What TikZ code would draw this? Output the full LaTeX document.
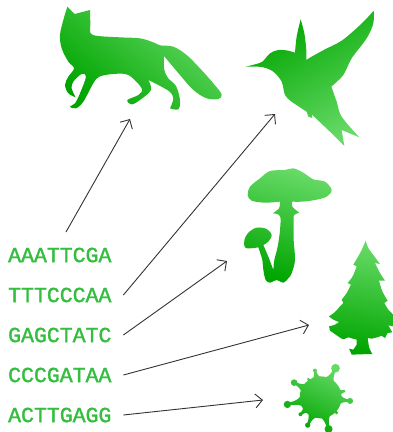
\documentclass[tikz,border=0pt]{standalone}
\usepackage{fontspec}
\setmainfont{Liberation Mono}[FakeBold=1.6]
\usetikzlibrary{arrows.meta}
\definecolor{darkg}{HTML}{00A500}
\definecolor{midg}{HTML}{2CBB2C}
\definecolor{lightg}{HTML}{66DA66}
\definecolor{seqg}{HTML}{35BD40}
\definecolor{linec}{HTML}{333333}
\tikzset{
  zoomed/.style={x=0.33333pt,y=-0.33333pt},
  sm/.style={smooth,tension=0.55},
  silh/.style={draw=none,shade,bottom color=darkg,top color=lightg},
  seq/.style={anchor=west,inner sep=0pt,text width=115pt,align=left,font=\fontsize{21.5}{21.5}\selectfont,text=seqg},
  link/.style={draw=linec,line width=0.9pt,-{Straight Barb[length=7pt,width=14pt,line width=0.9pt]}}
}
\begin{document}
\begin{tikzpicture}[x=1pt,y=-1pt]
\useasboundingbox (0,0) rectangle (393,432);
% fox
\begin{scope}[shift={(40,0)},zoomed]
\path[silh,top color=lightg,bottom color=darkg,shading angle=-40]
 (82,20)--(104,42)--(150,30)
 -- plot[sm] coordinates {(150,30)(151,70)(152,100)(175,108)(240,112)(300,115)(340,127)(360,136)(400,140)(440,165)(480,205)(520,250)(545,283)(535,297)(500,295)(460,270)(420,225)(372,168)}
 -- plot[sm] coordinates {(372,168)(373,210)(385,235)(408,258)(420,300)(415,328)(390,325)}
 -- plot[sm] coordinates {(390,325)(400,295)(385,272)(325,240)}
 -- plot[sm] coordinates {(325,240)(333,270)(300,300)(275,313)(262,300)(295,285)(305,265)(265,225)(220,222)(178,230)(160,250)(130,305)(108,325)(90,320)(105,310)(120,280)(138,230)(125,222)(100,245)(95,265)(107,292)}
 -- plot[sm] coordinates {(107,292)(85,280)(75,255)(85,230)(102,205)(85,185)(65,145)(60,105)(70,60)(82,20)}
 -- cycle;
\end{scope}
% bird
\begin{scope}[shift={(235,0)},zoomed]
\path[silh,top color=lightg,bottom color=darkg,shading angle=-150]
 plot[sm] coordinates {(32,200)(60,193)(82,185)(105,160)(130,150)(160,152)(180,158)}
 -- plot[sm] coordinates {(180,158)(185,110)(197,58)}
 -- plot[sm] coordinates {(197,58)(208,100)(214,150)(214,180)}
 -- plot[sm] coordinates {(214,180)(230,170)(270,148)(320,122)(370,80)(400,50)(416,32)}
 -- plot[sm] coordinates {(416,32)(415,70)(395,115)(350,175)(325,225)(289,260)}
 -- plot[sm] coordinates {(289,260)(305,305)(320,350)(373,412)}
 -- (320,390) -- (328,438)
 -- plot[sm] coordinates {(328,438)(290,400)(230,343)}
 -- (232,354) -- (220,350) -- (215,335)
 -- plot[sm] coordinates {(215,335)(170,305)(150,285)(140,245)(115,215)(85,202)(60,200)(32,200)}
 -- cycle;
\end{scope}
% mushroom
\begin{scope}[shift={(235,160)},zoomed]
\path[silh,top color=lightg,bottom color=darkg,shading angle=-15]
 plot[sm] coordinates {(172,125)(172,140)(193,158)}
 -- plot[sm] coordinates {(193,158)(178,165)(176,180)(176,240)(180,300)(170,340)(160,355)(145,368)(125,360)(105,368)(92,360)(85,330)(82,300)(70,262)}
 -- plot[sm] coordinates {(70,262)(45,265)(30,262)(28,240)(40,218)(65,203)(95,207)(110,225)(100,245)(85,255)}
 -- plot[sm] coordinates {(85,255)(100,290)(115,330)}
 -- plot[sm] coordinates {(115,330)(118,300)(128,260)(135,210)(135,168)(113,160)}
 -- plot[sm] coordinates {(113,160)(132,145)(135,125)}
 -- plot[sm] coordinates {(135,125)(90,128)(50,122)(38,105)(45,80)(75,55)(105,33)(150,30)(175,25)(205,38)(235,58)(270,65)(290,90)(275,110)(240,120)(200,125)(172,125)}
 -- cycle;
\end{scope}
% tree
\begin{scope}[shift={(325,238)},zoomed]
\path[silh,top color=lightg,bottom color=darkg,shading angle=-10]
 (122,8)
 -- plot[sm] coordinates {(122,8)(130,30)(148,55)(165,78)}
 -- plot[sm] coordinates {(165,78)(150,75)}
 -- plot[sm] coordinates {(150,75)(165,105)(180,128)}
 -- (162,128)
 -- plot[sm] coordinates {(162,128)(172,160)(188,188)}
 -- (178,195)
 -- plot[sm] coordinates {(178,195)(190,215)(204,228)}
 -- (204,265) -- (190,262) -- (202,283) -- (188,285) -- (180,300) -- (170,293) -- (160,297) -- (140,302) -- (128,300)
 -- plot[sm] coordinates {(128,300)(133,330)(142,348)}
 -- (105,349) -- (80,350) -- (76,340) -- (72,332) -- (85,335) -- (95,320) -- (95,305) -- (70,298) -- (58,303) -- (50,302) -- (35,292) -- (15,278) -- (12,265)
 -- plot[sm] coordinates {(12,265)(30,260)(42,252)}
 -- plot[sm] coordinates {(42,252)(25,245)(12,235)}
 -- plot[sm] coordinates {(12,235)(30,222)(45,205)(55,195)}
 -- (50,185)
 -- plot[sm] coordinates {(50,185)(65,165)(78,140)}
 -- (68,135)
 -- plot[sm] coordinates {(68,135)(83,115)(95,85)}
 -- (85,80)
 -- plot[sm] coordinates {(85,80)(108,40)(122,8)}
 -- cycle;
\end{scope}
% virus
\begin{scope}[shift={(270,235)},x=0.33333pt,y=-0.33333pt]
\begin{scope}[shift={(152,487)}]
\path[silh,top color=lightg,bottom color=darkg,shading angle=-25]
 (0,0) circle (63)
 foreach \a/\d/\r in {-63/98/13,-102/82/6,-124/66/4,-151/91/10,168/102/11,140/79/6,115/92/8,76/98/12,44/66/5,7/89/9,-15/72/5}{
  ({\a-18}:58) .. controls ({\a-5}:{58+(\d-58)*0.3}) .. ({\a-2}:\d) -- ({\a+2}:\d) .. controls ({\a+5}:{58+(\d-58)*0.3}) .. ({\a+18}:58) -- cycle
  (\a:\d) circle (\r)
 };
\end{scope}
\end{scope}
% sequences
\node[seq] (s1) at (8,255) {AAATTCGA};
\node[seq] (s2) at (8,295) {TTTCCCAA};
\node[seq] (s3) at (8,335) {GAGCTATC};
\node[seq] (s4) at (8,375) {CCCGATAA};
\node[seq] (s5) at (8,415) {ACTTGAGG};
% connector ends
\coordinate (a0) at (66,232);
\coordinate (fox) at (130,119);
\coordinate (bird) at (275,114);
\coordinate (mush) at (227,261);
\coordinate (tree) at (309,325);
\coordinate (virus) at (263,400);
\draw[link] (a0) -- (fox);
\draw[link] (s2.east) -- (bird);
\draw[link] (s3.east) -- (mush);
\draw[link] (s4.east) -- (tree);
\draw[link] (s5.east) -- (virus);
\end{tikzpicture}
\end{document}
